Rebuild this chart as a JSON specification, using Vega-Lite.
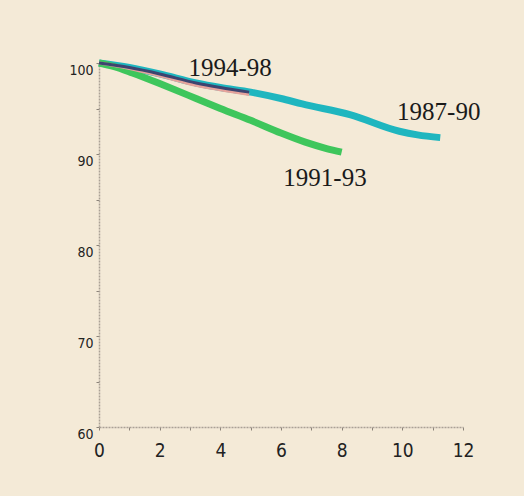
{
  "$schema": "https://vega.github.io/schema/vega-lite/v6.json",
  "width": 364,
  "height": 364,
  "autosize": {"type": "none"},
  "padding": {"left": 99, "top": 63, "right": 61, "bottom": 69},
  "background": "#f4ead7",
  "config": {
    "view": {"stroke": null},
    "axis": {
      "grid": false,
      "domainColor": "#aaa196",
      "domainWidth": 1.5,
      "domainDash": [2, 1],
      "tickColor": "#8a8278",
      "tickSize": 3,
      "labelColor": "#222222",
      "labelFont": "Liberation Sans Narrow, DejaVu Sans Condensed, Liberation Sans",
      "title": null
    }
  },
  "datasets": {
    "lines": [
      {"series": "1987-90", "t": 0, "v": 100},
      {"series": "1987-90", "t": 1, "v": 99.5},
      {"series": "1987-90", "t": 2, "v": 98.8},
      {"series": "1987-90", "t": 3.2, "v": 97.8},
      {"series": "1987-90", "t": 4, "v": 97.3},
      {"series": "1987-90", "t": 5, "v": 96.8},
      {"series": "1987-90", "t": 6, "v": 96.1},
      {"series": "1987-90", "t": 6.7, "v": 95.5},
      {"series": "1987-90", "t": 8.3, "v": 94.3},
      {"series": "1987-90", "t": 9.9, "v": 92.5},
      {"series": "1987-90", "t": 10.5, "v": 92.1},
      {"series": "1987-90", "t": 11.25, "v": 91.8},
      {"series": "1991-93", "t": 0, "v": 100},
      {"series": "1991-93", "t": 0.5, "v": 99.6},
      {"series": "1991-93", "t": 1.1, "v": 98.9},
      {"series": "1991-93", "t": 2.1, "v": 97.6},
      {"series": "1991-93", "t": 3.2, "v": 96.1},
      {"series": "1991-93", "t": 4, "v": 95.0},
      {"series": "1991-93", "t": 5, "v": 93.7},
      {"series": "1991-93", "t": 6, "v": 92.3},
      {"series": "1991-93", "t": 6.8, "v": 91.3},
      {"series": "1991-93", "t": 7.5, "v": 90.6},
      {"series": "1991-93", "t": 8, "v": 90.2},
      {"series": "1994-98 lower", "t": 0, "v": 100},
      {"series": "1994-98 lower", "t": 1, "v": 99.4},
      {"series": "1994-98 lower", "t": 2, "v": 98.6},
      {"series": "1994-98 lower", "t": 3.2, "v": 97.55},
      {"series": "1994-98 lower", "t": 4, "v": 97.05},
      {"series": "1994-98 lower", "t": 4.95, "v": 96.55},
      {"series": "1994-98", "t": 0, "v": 100},
      {"series": "1994-98", "t": 1, "v": 99.5},
      {"series": "1994-98", "t": 2, "v": 98.8},
      {"series": "1994-98", "t": 3.2, "v": 97.8},
      {"series": "1994-98", "t": 4, "v": 97.3},
      {"series": "1994-98", "t": 4.95, "v": 96.8}
    ],
    "labels": [
      {"text": "1994-98", "t": 4.32, "v": 99.45},
      {"text": "1987-90", "t": 11.2, "v": 94.6},
      {"text": "1991-93", "t": 7.45, "v": 87.4}
    ]
  },
  "encoding": {
    "x": {
      "field": "t", "type": "quantitative",
      "scale": {"domain": [0, 12], "nice": false, "zero": false},
      "axis": {
        "values": [0,1,2,3,4,5,6,7,8,9,10,11,12],
        "labelExpr": "datum.value % 2 == 0 ? datum.label : ''",
        "labelFontSize": 19,
        "labelPadding": 11,
        "labelFlush": false
      }
    },
    "y": {
      "field": "v", "type": "quantitative",
      "scale": {"domain": [60, 100], "nice": false, "zero": false},
      "axis": {
        "values": [60,65,70,75,80,85,90,95,100],
        "labelExpr": "datum.value % 10 == 0 ? datum.label : ''",
        "labelFontSize": 14,
        "labelPadding": 3,
        "labelBaseline": "top",
        "labelFlush": false
      }
    }
  },
  "layer": [
    {
      "data": {"name": "lines"},
      "transform": [{"filter": "datum.series == '1987-90'"}],
      "mark": {"type": "line", "color": "#1fb6bf", "strokeWidth": 7, "strokeCap": "butt", "interpolate": "monotone"}
    },
    {
      "data": {"name": "lines"},
      "transform": [{"filter": "datum.series == '1991-93'"}],
      "mark": {"type": "line", "color": "#3ec65c", "strokeWidth": 7, "strokeCap": "butt", "interpolate": "monotone"}
    },
    {
      "data": {"name": "lines"},
      "transform": [{"filter": "datum.series == '1994-98 lower'"}],
      "mark": {"type": "line", "color": "#e6a39c", "strokeWidth": 3, "interpolate": "monotone"}
    },
    {
      "data": {"name": "lines"},
      "transform": [{"filter": "datum.series == '1994-98'"}],
      "mark": {"type": "line", "color": "#3d4470", "strokeWidth": 3, "interpolate": "monotone"}
    },
    {
      "data": {"name": "labels"},
      "mark": {"type": "text", "font": "Liberation Serif", "fontSize": 25, "color": "#1a1a1a", "align": "center", "baseline": "middle"},
      "encoding": {"text": {"field": "text"}}
    }
  ]
}
